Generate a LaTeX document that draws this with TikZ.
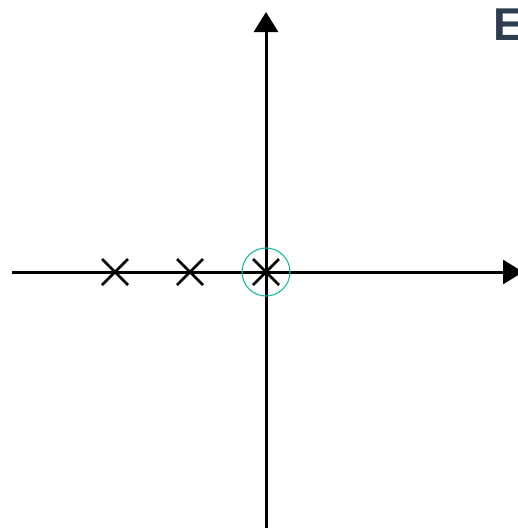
\documentclass[tikz,border=0pt]{standalone}
\usepackage{fontspec}
\setmainfont{Liberation Sans}
\usetikzlibrary{arrows.meta}
\definecolor{zerocol}{HTML}{1ABC9C}
\definecolor{titlecol}{HTML}{2C3E50}
\tikzset{
  axis/.style={line width=3pt, -{Triangle[length=20pt,width=24pt]}},
  polemark/.style={line width=2.8pt},
  zeroring/.style={draw=zerocol, line width=1.1pt}
}
\begin{document}
\begin{tikzpicture}[x=1pt,y=-1pt]
\useasboundingbox (0,0) rectangle (518,528);
\coordinate (xl) at (12,272);
\coordinate (xr) at (523,272);
\coordinate (yb) at (266,530);
\coordinate (yt) at (266,12);
\draw[axis] (xl) -- (xr);
\draw[axis] (yb) -- (yt);
\foreach \n/\px in {p1/115, p2/190, p3/266}{
  \coordinate (\n) at (\px,272);
  \draw[polemark] ([shift={(-13,-13)}]\n) -- ([shift={(13,13)}]\n);
  \draw[polemark] ([shift={(-13,13)}]\n) -- ([shift={(13,-13)}]\n);
}
\node[zeroring, circle, minimum size=48pt, inner sep=0pt] (z) at (266,272) {};
\node[anchor=north west, inner sep=0pt, text=titlecol, font=\fontsize{46}{46}\selectfont\bfseries] (title) at (493,9) {E};
\end{tikzpicture}
\end{document}
